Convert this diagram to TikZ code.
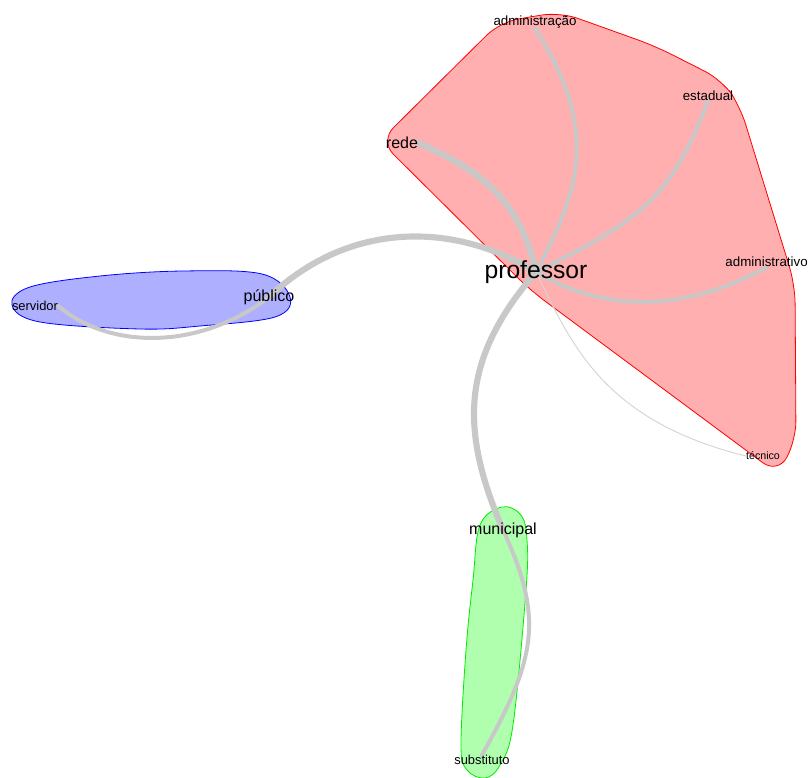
\documentclass[tikz,border=0pt]{standalone}
\usepackage{fontspec}
\setmainfont{Liberation Sans}
\usetikzlibrary{backgrounds}
\definecolor{edgegray}{RGB}{200,200,200}
\definecolor{thingray}{RGB}{212,212,212}
\definecolor{redfill}{RGB}{255,175,175}
\definecolor{bluefill}{RGB}{175,175,255}
\definecolor{greenfill}{RGB}{175,255,175}
\definecolor{greenline}{RGB}{0,235,0}
\tikzset{
    base/.style = {inner sep=0pt, text=black},
    % Vertex labels
    hub/.style   = {base, font=\fontsize{18.5}{20}\selectfont},
    major/.style = {base, font=\fontsize{12}{14}\selectfont},
    minor/.style = {base, font=\fontsize{10}{12}\selectfont},
    small/.style = {base, font=\fontsize{9.7}{11}\selectfont},
    tiny/.style  = {base, font=\fontsize{8}{10}\selectfont},
    % Edges and groups
    edge/.style      = {draw=edgegray, line width=3pt, line cap=round},
    heavyedge/.style = {edge, line width=4.6pt},
    lightedge/.style = {draw=thingray, line width=0.7pt},
    redgroup/.style   = {draw=red, fill=redfill, line width=0.6pt},
    bluegroup/.style  = {draw=blue, fill=bluefill, line width=0.6pt},
    greengroup/.style = {draw=greenline, fill=greenfill, line width=0.6pt}
}
\begin{document}
\begin{tikzpicture}[x=0.75pt, y=-0.75pt]
    \useasboundingbox (0,0) rectangle (809,777);

    % Groups
    \begin{scope}[on background layer]
        \draw [redgroup, rounded corners=14pt] (380,141) -- (500,22) -- (560,12) -- (655,46) -- (722,80) -- (740,106)
            -- (795,285) -- (796,440) -- (778,474) -- (530,290) -- cycle;
        \draw [bluegroup] plot [smooth cycle, tension=0.6] coordinates {(12,305) (30,287) (100,276) (183,271)
            (262,274) (290,297) (275,317) (200,326) (140,329) (40,322)};
        \draw [greengroup] plot [smooth cycle, tension=0.6] coordinates {(502,507) (521,515) (527,540)
            (526,590) (513,725) (500,765) (485,778) (467,770) (461,745) (466,650) (473,580) (480,525)};
    \end{scope}

    % Vertices
    \node (professor) [hub] at (536,272) {professor};
    \node (rede) [major] at (402,143) {rede};
    \node (publico) [major] at (269,297) {público};
    \node (municipal) [major] at (503,530) {municipal};
    \node (administracao) [minor] at (535,22) {administração};
    \node (estadual) [minor] at (708,96) {estadual};
    \node (administrativo) [minor, anchor=east] at (808,262) {administrativo};
    \node (servidor) [small] at (35,306) {servidor};
    \node (substituto) [small] at (482,760) {substituto};
    \node (tecnico) [tiny] at (763,456) {técnico};

    % Edges
    \begin{scope}[on background layer]
        \draw [heavyedge] (professor.center) .. controls (455,222) and (350,220) .. (publico.center);
        \draw [heavyedge] (professor.center) .. controls (520,200) and (480,170) .. (rede.east);
        \draw [heavyedge] (professor.center) .. controls (460,360) and (460,430) .. (municipal.center);
        \draw [edge] (publico.center) .. controls (200,350) and (110,350) .. (servidor.east);
        \draw [edge] (professor.center) .. controls (580,190) and (600,130) .. (administracao.south);
        \draw [edge] (professor.center) .. controls (640,220) and (670,200) .. (estadual.south);
        \draw [edge] (professor.center) .. controls (600,310) and (680,315) .. (administrativo.south);
        \draw [lightedge] (professor.center) .. controls (570,340) and (600,420) .. (tecnico.west);
        \draw [edge] (municipal.center) .. controls (545,620) and (535,660) .. (substituto.north);
    \end{scope}

\end{tikzpicture}
\end{document}
